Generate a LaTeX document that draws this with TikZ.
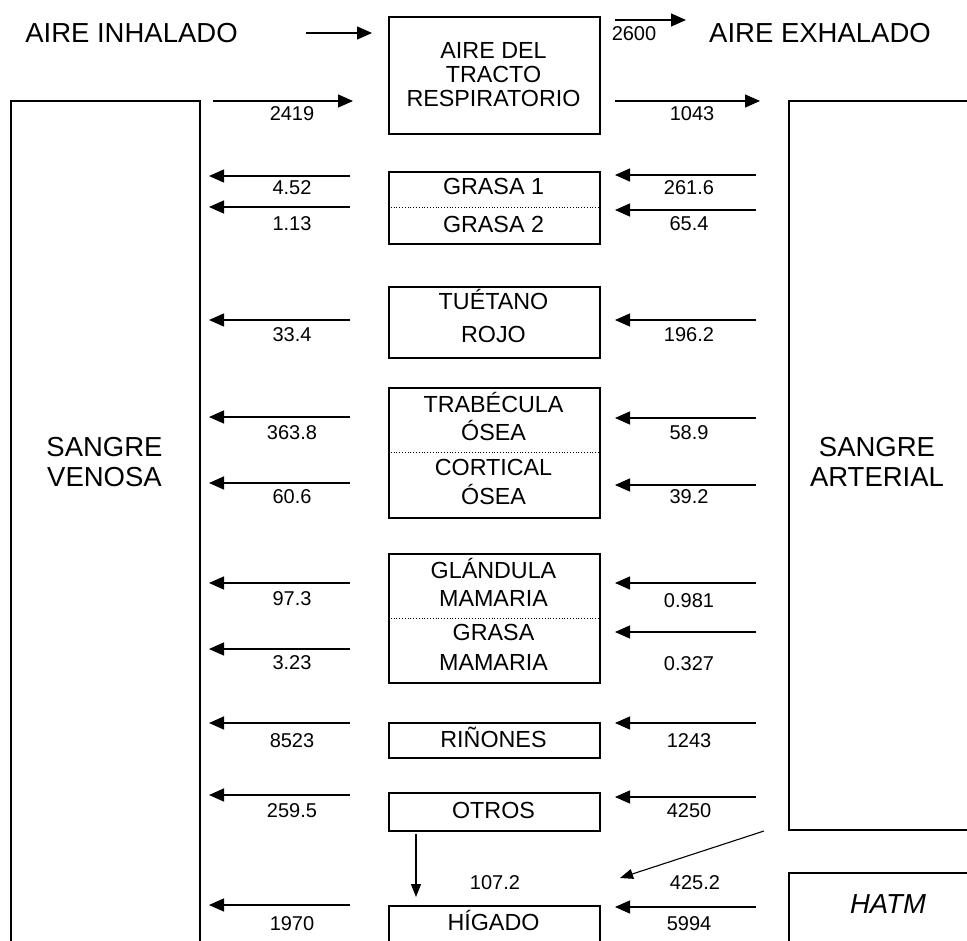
\documentclass[tikz,border=0pt]{standalone}
\usepackage{fontspec}
\setmainfont{Liberation Sans}
\usetikzlibrary{arrows.meta}
\begin{document}
\begin{tikzpicture}[x=1pt,y=-1pt,
 box/.style={draw, line width=1.6pt, inner sep=0, anchor=north west},
 big/.style={inner sep=0, font=\fontsize{27.5}{30}\selectfont, text height=19.7pt, text depth=0pt},
 mid/.style={inner sep=0, font=\fontsize{23.3}{25}\selectfont, text height=16.7pt, text depth=0pt},
 num/.style={inner sep=0, font=\fontsize{20}{22}\selectfont, text height=14.3pt, text depth=0pt},
 flow/.style={line width=1.4pt, -{Triangle[length=15pt,width=13pt]}},
 thinflow/.style={line width=1.1pt, -{Triangle[length=13pt,width=10pt]}},
 sep/.style={dotted, line width=0.8pt}
]
\useasboundingbox (0,0) rectangle (967,941);
\clip (0,0) rectangle (967,941);

% boxes
\node[box, minimum width=211pt, minimum height=117pt] (top) at (388,16) {};
\node[box, minimum width=211pt, minimum height=72pt] (grasa) at (388,171) {};
\node[box, minimum width=211pt, minimum height=71pt] (tuet) at (388,286) {};
\node[box, minimum width=211pt, minimum height=130pt] (trab) at (388,387) {};
\node[box, minimum width=211pt, minimum height=129pt] (gland) at (388,553) {};
\node[box, minimum width=211pt, minimum height=35pt] (rin) at (388,722) {};
\node[box, minimum width=211pt, minimum height=38pt] (otros) at (388,792) {};
\node[box, minimum width=211pt, minimum height=80pt] (hig) at (388,905) {};
\node[box, minimum width=189pt, minimum height=900pt] (ven) at (10,100) {};
\node[box, minimum width=300pt, minimum height=729pt] (art) at (788,100) {};
\node[box, minimum width=300pt, minimum height=200pt] (hatm) at (788,872) {};

\draw[sep] (grasa.west) -- (grasa.east);
\draw[sep] (trab.west) -- (trab.east);
\draw[sep] (gland.west) -- (gland.east);

% texts
\node[big] (tin) at (131.5,33) {AIRE INHALADO};
\node[big] (tex) at (820,33) {AIRE EXHALADO};
\node[mid] (t1) at (493.5,50) {AIRE DEL};
\node[mid] (t2) at (493.5,74) {TRACTO};
\node[mid] (t3) at (493.5,98) {RESPIRATORIO};
\node[mid] (g1) at (493.5,186) {GRASA 1};
\node[mid] (g2) at (493.5,224) {GRASA 2};
\node[mid] (u1) at (493.5,301) {TUÉTANO};
\node[mid] (u2) at (493.5,334) {ROJO};
\node[mid] (b1) at (493.5,404) {TRABÉCULA};
\node[mid] (b2) at (493.5,432) {ÓSEA};
\node[mid] (b3) at (493.5,467) {CORTICAL};
\node[mid] (b4) at (493.5,496) {ÓSEA};
\node[mid] (m1) at (493.5,570) {GLÁNDULA};
\node[mid] (m2) at (493.5,598) {MAMARIA};
\node[mid] (m3) at (493.5,632) {GRASA};
\node[mid] (m4) at (493.5,662) {MAMARIA};
\node[mid] (r1) at (493.5,739) {RIÑONES};
\node[mid] (o1) at (493.5,810) {OTROS};
\node[mid] (h1) at (493.5,922) {HÍGADO};
\node[big] (v1) at (104.5,447) {SANGRE};
\node[big] (v2) at (104.5,477) {VENOSA};
\node[big] (a1) at (877,447) {SANGRE};
\node[big] (a2) at (877,477) {ARTERIAL};
\node[big, font=\fontsize{27.5}{30}\selectfont\itshape] (hm) at (888,904) {HATM};

% arrow end points
\coordinate (inS) at (306,33);  \coordinate (inE) at (372,33);
\coordinate (exS) at (615,20);  \coordinate (exE) at (686,20);
\coordinate (vaS) at (213,101); \coordinate (vaE) at (353,101);
\coordinate (taS) at (615,101); \coordinate (taE) at (760,101);

\draw[flow] (inS) -- (inE);
\draw[flow] (exS) -- (exE);
\node[num] (n2600) at (634,33) {2600};
\draw[flow] (vaS) -- (vaE);
\node[num] (n2419) at (292,113) {2419};
\draw[flow] (taS) -- (taE);
\node[num] (n1043) at (692,113) {1043};

% left arrows (from organ toward venous blood)
\foreach \y/\ly/\t [count=\i] in {176/187/4.52, 207/223/1.13, 320/334/33.4, 417/432/363.8, 483/496/60.6, 583/598/97.3, 649/662/3.23, 723/740/8523, 795/810/259.5, 905/923/1970}{
  \coordinate (lS\i) at (350,\y);
  \coordinate (lE\i) at (209,\y);
  \draw[flow] (lS\i) -- (lE\i);
  \node[num] (lN\i) at (292,\ly) {\t};
}
% right arrows (from arterial blood toward organ)
\foreach \y/\ly/\t [count=\i] in {175/187/261.6, 210/223/65.4, 320/334/196.2, 418/432/58.9, 485/496/39.2, 583/600/0.981, 632/663/0.327, 723/740/1243, 797/810/4250, 907/923/5994}{
  \coordinate (rS\i) at (756,\y);
  \coordinate (rE\i) at (615,\y);
  \draw[flow] (rS\i) -- (rE\i);
  \node[num] (rN\i) at (689,\ly) {\t};
}

% to liver
\coordinate (dS) at (764,831); \coordinate (dE) at (620,878);
\draw[thinflow] (dS) -- (dE);
\node[num] (n425) at (695,882) {425.2};
\coordinate (oS) at (416,834); \coordinate (oE) at (416,897);
\draw[thinflow] (oS) -- (oE);
\node[num] (n107) at (495,882) {107.2};
\end{tikzpicture}
\end{document}
